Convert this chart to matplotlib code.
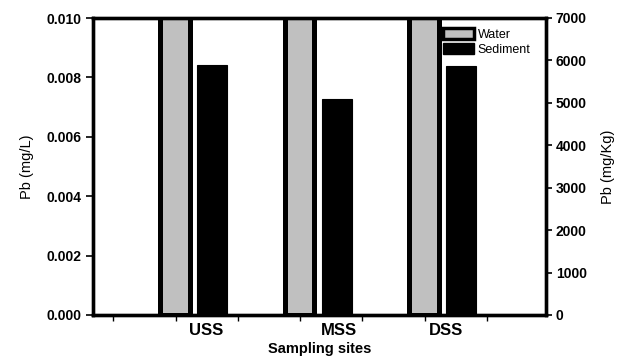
import matplotlib
matplotlib.use("Agg")
import matplotlib.pyplot as plt
from matplotlib.patches import Patch
import numpy as np

plt.rcParams['font.family'] = ['Liberation Sans', 'DejaVu Sans']

sites = ["USS", "MSS", "DSS"]
water = [0.0125, 0.0125, 0.0125]          # Pb in water (mg/L), above plotted range
sediment = [5900, 5100, 5870]             # Pb in sediment (mg/Kg)
left_ticks = [0.000, 0.002, 0.004, 0.006, 0.008, 0.010]
right_ticks = [0, 1000, 2000, 3000, 4000, 5000, 6000, 7000]

fig = plt.figure(figsize=(6.19, 3.6), dpi=100)
ax = fig.add_axes([0.150, 0.125, 0.732, 0.825])
ax2 = ax.twinx()

x = np.arange(len(sites))
off = 0.15
w = 0.24

ax.bar(x - off, water, width=w, color="#c0c0c0", edgecolor="black", linewidth=3.6, zorder=2)
ax2.bar(x + off, sediment, width=w, color="black", edgecolor="black", linewidth=0.8, zorder=2)

ax.set_xlim(-0.81, 2.83)
ax.set_ylim(0, 0.010)
ax2.set_ylim(0, 7000)

ax.set_yticks(left_ticks)
ax.set_yticklabels([f"{v:.3f}" for v in left_ticks], fontweight="bold", fontsize=10)
ax2.set_yticks(right_ticks)
ax2.set_yticklabels([str(v) for v in right_ticks], fontweight="bold", fontsize=10)

# tick marks between/around groups, labels placed separately
ax.set_xticks(np.arange(-0.645, 2.5, 0.5), minor=True)
ax.set_xticks([0.096, 1.165, 2.03])
ax.set_xticklabels(sites, fontweight="bold", fontsize=12)
ax.tick_params(axis="x", which="major", length=0, pad=6)
ax.tick_params(axis="x", which="minor", length=4, width=1.0, direction="out")
ax.tick_params(axis="y", length=5, width=1.2, direction="out", pad=3)
ax2.tick_params(axis="y", length=4, width=1.2, direction="out", pad=3)

for a in (ax, ax2):
    for s in a.spines.values():
        s.set_linewidth(2.4)

ax.set_ylabel("Pb (mg/L)", fontsize=10.5, labelpad=9)
ax2.set_ylabel("Pb (mg/Kg)", fontsize=10.5, labelpad=10)
ax.set_xlabel("Sampling sites", fontweight="bold", fontsize=10.5, labelpad=3)

handles = [Patch(facecolor="#c0c0c0", edgecolor="black", linewidth=2.5),
           Patch(facecolor="black", edgecolor="black")]
ax2.legend(handles, ["Water", "Sediment"], loc="upper right", frameon=False,
           fontsize=9, handlelength=2.5, handleheight=0.9, handletextpad=0.3,
           labelspacing=0.2, borderaxespad=0.3, bbox_to_anchor=(0.985, 0.995))

fig.savefig("out.png", dpi=100)
